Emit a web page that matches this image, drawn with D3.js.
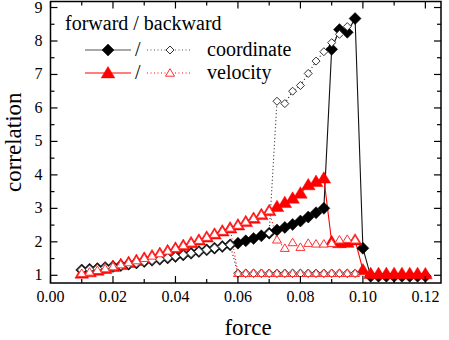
<!DOCTYPE html>
<html>
<head>
<meta charset="utf-8">
<script src="https://cdn.jsdelivr.net/npm/d3@7"></script>
<style>
  body { margin: 0; background: #fff; }
</style>
</head>
<body>
<div id="vis-container"></div>
<script>
const width = 449;
const height = 340;
const margin = {left: 50.5, right: 8, top: 1.5, bottom: 57};
const serif = "'Liberation Serif', 'Times New Roman', serif";

// force steps of the sweep
const force = [0.01, 0.0125, 0.015, 0.0175, 0.02, 0.0225, 0.025, 0.0275, 0.03, 0.0325,
  0.035, 0.0375, 0.04, 0.0425, 0.045, 0.0475, 0.05, 0.0525, 0.055, 0.0575,
  0.06, 0.0625, 0.065, 0.0675, 0.07, 0.0725, 0.075, 0.0775, 0.08, 0.0825,
  0.085, 0.0875, 0.09, 0.0925, 0.095, 0.0975, 0.1, 0.1025, 0.105, 0.1075,
  0.11, 0.1125, 0.115, 0.1175, 0.12];

// forward sweep
const fwdCoord = [1.16, 1.18, 1.2, 1.23, 1.26, 1.29, 1.33, 1.37, 1.41, 1.45,
  1.48, 1.52, 1.56, 1.61, 1.66, 1.71, 1.76, 1.81, 1.86, 1.91,
  1.96, 2.03, 2.1, 2.18, 2.26, 2.35, 2.43, 2.52, 2.62, 2.74,
  2.87, 3.0, 7.75, 8.34, 8.26, 8.67, 1.81, 0.97, 0.97, 0.97,
  0.97, 0.97, 0.97, 0.97, 0.97];
const fwdVel = [1.06, 1.1, 1.15, 1.2, 1.26, 1.32, 1.38, 1.44, 1.51, 1.58,
  1.65, 1.73, 1.81, 1.89, 1.97, 2.05, 2.14, 2.23, 2.32, 2.41,
  2.5, 2.6, 2.7, 2.81, 2.93, 3.05, 3.17, 3.3, 3.45, 3.7,
  3.8, 3.9, 2.0, 1.97, 1.98, 2.05, 1.16, 1.05, 1.05, 1.05,
  1.05, 1.05, 1.05, 1.05, 1.04];

// backward sweep (null = no point)
const bwdCoord = [1.16, 1.18, 1.2, 1.23, 1.26, 1.29, 1.33, 1.37, 1.41, 1.45,
  1.48, 1.52, 1.56, 1.61, 1.66, 1.71, 1.76, 1.81, 1.86, 1.91,
  1.06, 1.06, 1.06, 1.06, 1.06, 1.06, 1.06, 1.06, 1.06, 1.06,
  1.06, 1.06, 1.06, 1.06, 1.06, 1.06, null, null, null, null,
  null, null, null, null, null];
const bwdCoordHigh = [null, null, null, null, null, null, null, null, null, null,
  null, null, null, null, null, null, null, null, null, null,
  null, null, null, null, 2.26, 6.2, 6.13, 6.5, 6.67, 7.03,
  7.4, 7.68, 7.95, 8.2, 8.43, null, null, null, null, null,
  null, null, null, null, null];
const bwdVel = [1.06, 1.1, 1.15, 1.2, 1.26, 1.32, 1.38, 1.44, 1.51, 1.58,
  1.65, 1.73, 1.81, 1.89, 1.97, 2.05, 2.14, 2.23, 2.32, 2.41,
  2.5, 2.6, 2.7, 2.81, 2.93, 2.06, 1.81, 1.98, 1.84, 1.96,
  1.94, 1.94, 1.96, 2.06, 2.08, 2.06, null, null, null, null,
  null, null, null, null, null];
const bwdVelLow = [null, null, null, null, null, null, null, null, null, null,
  null, null, null, null, null, null, null, null, null, 2.41,
  1.06, 1.06, 1.06, 1.06, 1.06, 1.06, 1.06, 1.06, 1.06, 1.06,
  1.06, 1.06, 1.06, 1.06, 1.06, 1.06, null, null, null, null,
  null, null, null, null, null];

const xTicks = [0.00, 0.02, 0.04, 0.06, 0.08, 0.10, 0.12];
const yTicks = [1, 2, 3, 4, 5, 6, 7, 8, 9];

const svg = d3.select("#vis-container")
  .append("svg")
  .attr("width", width)
  .attr("height", height)
  .attr("font-family", serif);

const x = d3.scaleLinear()
  .domain([0, 0.125])
  .range([margin.left, width - margin.right]);

const y = d3.scaleLinear()
  .domain([0.77, 9.18])
  .range([height - margin.bottom, margin.top]);

const pts = vals => force.map((f, i) => ({f: f, v: vals[i]}));

const line = d3.line()
  .defined(d => d.v != null)
  .x(d => x(d.f))
  .y(d => y(d.v));

const diamond = s => `M0,${-s}L${s},0L0,${s}L${-s},0Z`;
const triangle = s => `M0,${-s}L${s * 1.05},${s * 0.75}L${-s * 1.05},${s * 0.75}Z`;

const plot = svg.append("g");

function drawLine(vals, color, dash) {
  plot.append("path")
    .datum(pts(vals))
    .attr("fill", "none")
    .attr("stroke", color)
    .attr("stroke-width", 1.1)
    .attr("stroke-dasharray", dash)
    .attr("d", line);
}

function drawMarks(vals, shape, fill, stroke, sw) {
  plot.append("g")
    .selectAll("path")
    .data(pts(vals).filter(d => d.v != null))
    .join("path")
    .attr("transform", d => `translate(${x(d.f)},${y(d.v)})`)
    .attr("d", shape)
    .attr("fill", fill)
    .attr("stroke", stroke)
    .attr("stroke-width", sw);
}

// lines
drawLine(fwdCoord, "#111", null);
drawLine(fwdVel, "#f00", null);
drawLine(bwdCoord, "#222", "1,2.5");
drawLine(bwdCoordHigh, "#222", "1,2.5");
drawLine(bwdVel, "#f00", "1,2.5");
drawLine(bwdVelLow, "#f00", "1,2.5");

// markers
drawMarks(fwdCoord, diamond(6), "#000", "#000", 0.5);
drawMarks(fwdVel, triangle(6.5), "#f00", "#f00", 0.5);
drawMarks(bwdCoord, diamond(4.3), "#fff", "#444", 1);
drawMarks(bwdCoordHigh, diamond(4), "#fff", "#333", 1);
drawMarks(bwdVel, triangle(4.3), "#fff", "#f33", 1);
drawMarks(bwdVelLow, triangle(4.3), "none", "#f33", 1);

// frame
const x0 = margin.left, x1 = width - margin.right;
const y0 = margin.top, y1 = height - margin.bottom;
svg.append("rect")
  .attr("x", x0).attr("y", y0)
  .attr("width", x1 - x0).attr("height", y1 - y0)
  .attr("fill", "none")
  .attr("stroke", "#000")
  .attr("stroke-width", 1.5);

// ticks on all four sides, pointing inward
const xMinor = [0.01, 0.03, 0.05, 0.07, 0.09, 0.11];
const yMinor = [1.5, 2.5, 3.5, 4.5, 5.5, 6.5, 7.5, 8.5];
const tickG = svg.append("g").attr("stroke", "#000").attr("stroke-width", 1.2);
xTicks.concat(xMinor).forEach((t, i) => {
  const len = i < xTicks.length ? 7 : 4;
  tickG.append("line").attr("x1", x(t)).attr("x2", x(t)).attr("y1", y1).attr("y2", y1 - len);
  tickG.append("line").attr("x1", x(t)).attr("x2", x(t)).attr("y1", y0).attr("y2", y0 + len);
});
yTicks.concat(yMinor).forEach((t, i) => {
  const len = i < yTicks.length ? 7 : 4;
  tickG.append("line").attr("y1", y(t)).attr("y2", y(t)).attr("x1", x0).attr("x2", x0 + len);
  tickG.append("line").attr("y1", y(t)).attr("y2", y(t)).attr("x1", x1).attr("x2", x1 - len);
});

// tick labels
svg.append("g").selectAll("text")
  .data(xTicks)
  .join("text")
  .attr("x", d => x(d))
  .attr("y", y1 + 19)
  .attr("text-anchor", "middle")
  .attr("font-size", 16)
  .text(d3.format(".2f"));

svg.append("g").selectAll("text")
  .data(yTicks)
  .join("text")
  .attr("x", x0 - 8)
  .attr("y", d => y(d) + 5)
  .attr("text-anchor", "end")
  .attr("font-size", 16)
  .text(d => d);

// axis titles
svg.append("text")
  .attr("x", 248)
  .attr("y", 335)
  .attr("text-anchor", "middle")
  .attr("font-size", 23)
  .text("force");

svg.append("text")
  .attr("transform", `translate(21,${(y0 + y1) / 2}) rotate(-90)`)
  .attr("text-anchor", "middle")
  .attr("font-size", 23)
  .text("correlation");

// legend
const legend = svg.append("g");
legend.append("text").attr("x", 65).attr("y", 30).attr("font-size", 20).text("forward / backward");

const rows = [
  {y: 50, color: "#555", fill: "#000", fwd: diamond(6), bwd: diamond(4), bstroke: "#333", label: "coordinate"},
  {y: 73, color: "#f00", fill: "#f00", fwd: triangle(6.5), bwd: triangle(4.3), bstroke: "#f33", label: "velocity"}
];
rows.forEach(r => {
  legend.append("line").attr("x1", 85).attr("x2", 131).attr("y1", r.y).attr("y2", r.y)
    .attr("stroke", r.color).attr("stroke-width", 1.1);
  legend.append("path").attr("transform", `translate(108,${r.y})`).attr("d", r.fwd)
    .attr("fill", r.fill).attr("stroke", r.fill).attr("stroke-width", 0.5);
  legend.append("text").attr("x", 135).attr("y", r.y + 6).attr("font-size", 20).text("/");
  legend.append("line").attr("x1", 147).attr("x2", 192).attr("y1", r.y).attr("y2", r.y)
    .attr("stroke", r.color).attr("stroke-width", 1.1).attr("stroke-dasharray", "1,2.5");
  legend.append("path").attr("transform", `translate(170,${r.y})`).attr("d", r.bwd)
    .attr("fill", "#fff").attr("stroke", r.bstroke).attr("stroke-width", 1);
  legend.append("text").attr("x", 207).attr("y", r.y + 6).attr("font-size", 20).text(r.label);
});
</script>
</body>
</html>
